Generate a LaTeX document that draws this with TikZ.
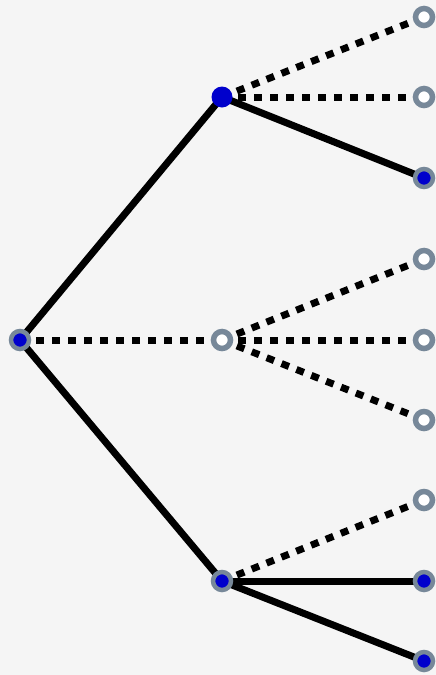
\documentclass[tikz,border=0pt]{standalone}
\definecolor{bg}{HTML}{F5F5F5}
\definecolor{ring}{HTML}{778899}
\definecolor{nblue}{HTML}{0000CC}
\tikzset{
  edge/.style={line width=7pt, black},
  dashedge/.style={edge, dash pattern=on 8pt off 8pt},
  bluenode/.style={circle, draw=ring, line width=4.5pt, fill=nblue, minimum size=18pt, inner sep=0pt},
  topnode/.style={circle, fill=nblue, minimum size=21pt, inner sep=0pt},
  whitenode/.style={circle, draw=ring, line width=5.5pt, fill=white, minimum size=17pt, inner sep=0pt},
}
\begin{document}
\begin{tikzpicture}[x=1pt,y=-1pt]
\fill[bg] (0,0) rectangle (436,675);
\useasboundingbox (0,0) rectangle (436,675);
\coordinate (r) at (20,340);
\coordinate (a) at (222,97);
\coordinate (b) at (222,340);
\coordinate (c) at (222,581);
\coordinate (l1) at (424,17);
\coordinate (l2) at (424,97);
\coordinate (l3) at (424,178);
\coordinate (l4) at (424,259);
\coordinate (l5) at (424,340);
\coordinate (l6) at (424,420);
\coordinate (l7) at (424,500);
\coordinate (l8) at (424,581);
\coordinate (l9) at (424,661);
% edges
\draw[edge] (r) -- (a);
\draw[dashedge] (r) -- (b);
\draw[edge] (r) -- (c);
\draw[dashedge] (a) -- (l1);
\draw[dashedge] (a) -- (l2);
\draw[edge] (a) -- (l3);
\draw[dashedge] (b) -- (l4);
\draw[dashedge] (b) -- (l5);
\draw[dashedge] (b) -- (l6);
\draw[dashedge] (c) -- (l7);
\draw[edge] (c) -- (l8);
\draw[edge] (c) -- (l9);
% nodes
\node[bluenode] (nr) at (r) {};
\node[topnode] (na) at (a) {};
\node[whitenode] (nb) at (b) {};
\node[bluenode] (nc) at (c) {};
\node[whitenode] (n1) at (l1) {};
\node[whitenode] (n2) at (l2) {};
\node[bluenode] (n3) at (l3) {};
\node[whitenode] (n4) at (l4) {};
\node[whitenode] (n5) at (l5) {};
\node[whitenode] (n6) at (l6) {};
\node[whitenode] (n7) at (l7) {};
\node[bluenode] (n8) at (l8) {};
\node[bluenode] (n9) at (l9) {};
\end{tikzpicture}
\end{document}
